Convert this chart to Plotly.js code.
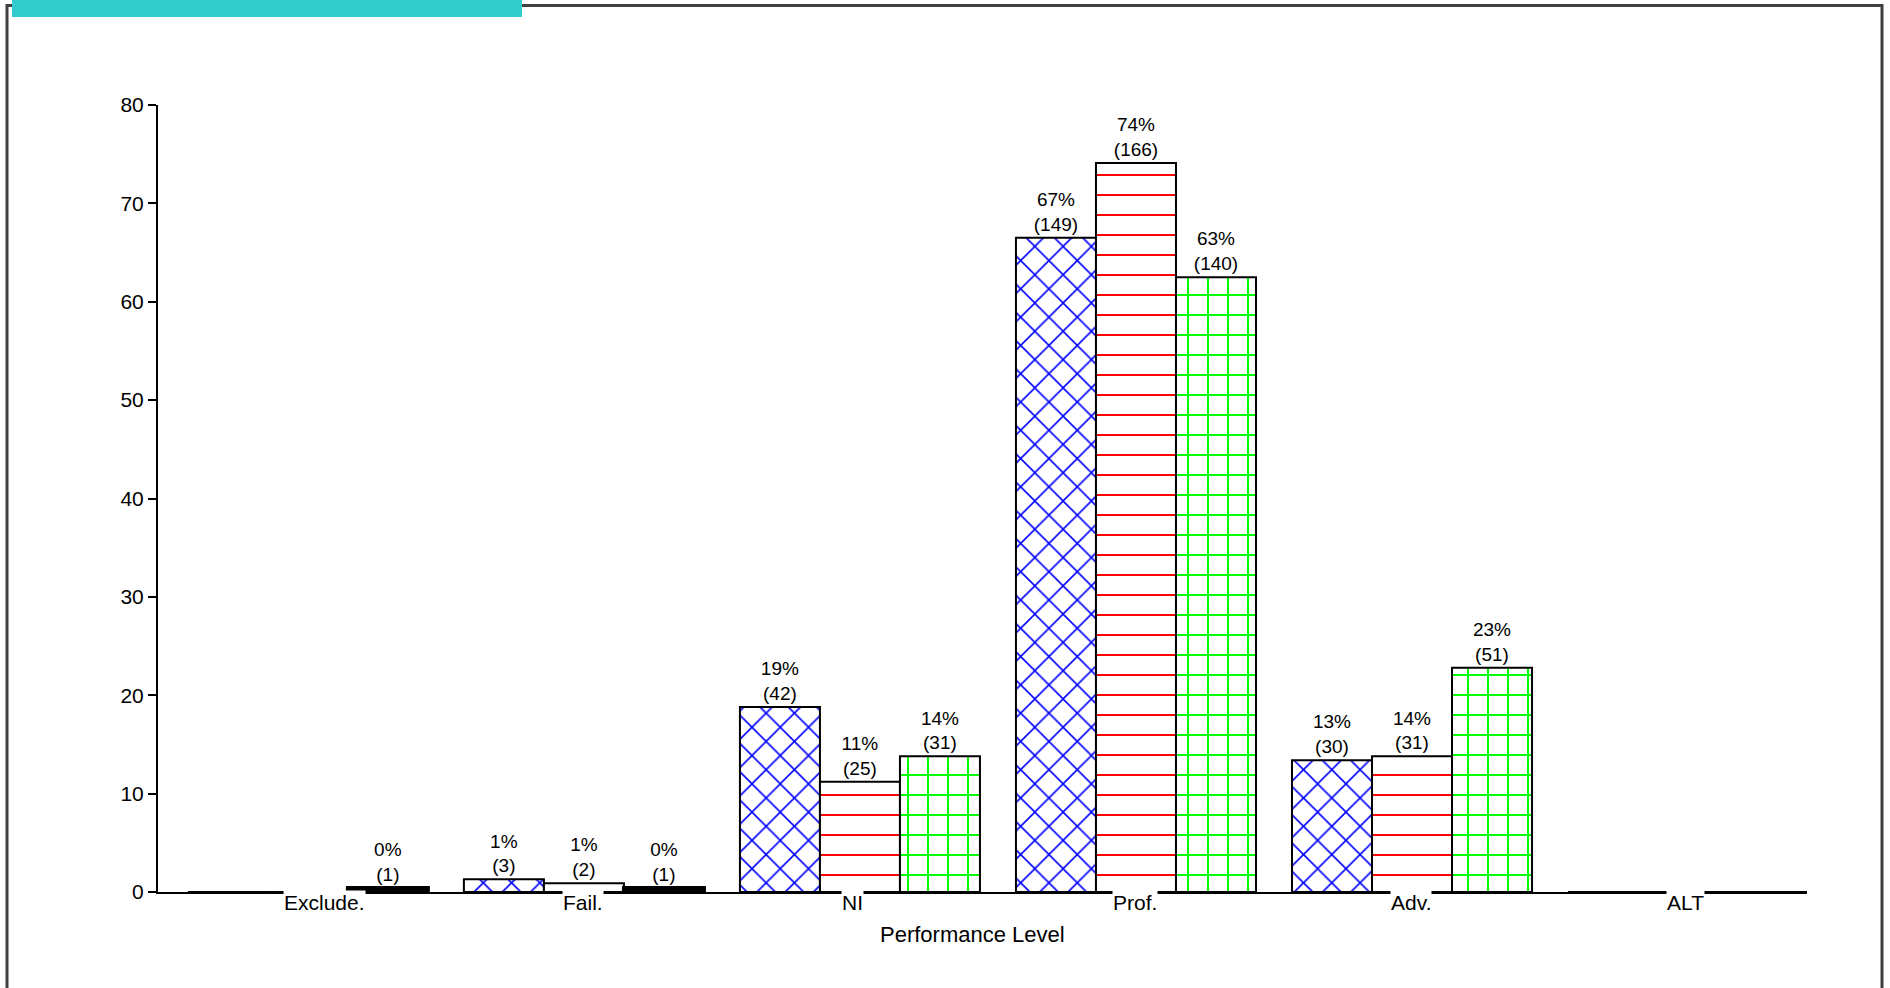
<!DOCTYPE html>
<html>
<head>
<meta charset="utf-8">
<script src="https://cdn.plot.ly/plotly-3.0.1.min.js"></script>
<style>
  html, body { margin: 0; padding: 0; background: #ffffff; }
  #chart { width: 1890px; height: 988px; }
</style>
</head>
<body>
<div id="chart"></div>
<script>
// ---- data ----
const categories = ["Exclude.", "Fail.", "NI", "Prof.", "Adv.", "ALT"];

const series1Values = [0, 1.3, 18.8, 66.5, 13.4, 0];
const series1Pct    = ["", "1%", "19%", "67%", "13%", ""];
const series1Count  = ["", "(3)", "(42)", "(149)", "(30)", ""];

const series2Values = [0, 0.9, 11.2, 74.1, 13.8, 0];
const series2Pct    = ["", "1%", "11%", "74%", "14%", ""];
const series2Count  = ["", "(2)", "(25)", "(166)", "(31)", ""];

const series3Values = [0.4, 0.4, 13.8, 62.5, 22.8, 0];
const series3Pct    = ["0%", "0%", "14%", "63%", "23%", ""];
const series3Count  = ["(1)", "(1)", "(31)", "(140)", "(51)", ""];

const yTicks = [0, 10, 20, 30, 40, 50, 60, 70, 80];
const xAxisTitle = "Performance Level";

// ---- styling ----
const FONT = "Liberation Sans, Arial, sans-serif";

function labels(pct, cnt) {
  return pct.map((p, i) => p === "" ? "" : p + "<br>" + cnt[i]);
}

function barTrace(vals, pct, cnt, shape, color, solidity) {
  return {
    type: "bar",
    x: categories,
    y: vals,
    text: labels(pct, cnt),
    textposition: "outside",
    constraintext: "none",
    cliponaxis: false,
    textfont: { family: FONT, size: 19, color: "#000000" },
    marker: {
      color: "#ffffff",
      // very thin bars are drawn as solid black slabs in the reference
      line: { color: "#000000", width: vals.map(v => (v > 0 && v < 0.6) ? 4 : 2) },
      pattern: { shape: shape, fgcolor: color, bgcolor: "#ffffff", size: 20, solidity: solidity, fillmode: "replace" }
    },
    hoverinfo: "x+y",
    showlegend: false
  };
}

const traces = [
  barTrace(series1Values, series1Pct, series1Count, "x", "#0000ff", 0.15),
  barTrace(series2Values, series2Pct, series2Count, "-", "#ff0000", 0.1),
  barTrace(series3Values, series3Pct, series3Count, "+", "#00ff00", 0.19)
];

// small horizontal nudges of category labels as placed in the reference
const labelNudge = [17, -1, -7, -1, -1, -3];

const annotations = categories.map((c, i) => ({
  xref: "x", yref: "paper",
  x: c, y: 0,
  xanchor: "center", yanchor: "top",
  xshift: labelNudge[i], yshift: 2,
  text: c,
  showarrow: false,
  bgcolor: "#ffffff",
  borderpad: 0,
  font: { family: FONT, size: 21, color: "#000000" }
}));

annotations.push({
  xref: "paper", yref: "paper",
  x: 0.4942, y: -0.0546,
  xanchor: "center", yanchor: "middle",
  text: xAxisTitle,
  showarrow: false,
  font: { family: FONT, size: 22, color: "#000000" }
});

const layout = {
  width: 1890,
  height: 988,
  margin: { l: 158, r: 83, t: 105, b: 96, pad: 0 },
  paper_bgcolor: "#ffffff",
  plot_bgcolor: "#ffffff",
  barmode: "group",
  bargap: 0.1304,
  bargroupgap: 0,
  showlegend: false,
  font: { family: FONT, size: 21, color: "#000000" },
  xaxis: {
    type: "category",
    range: [-0.543, 5.431],
    showline: true,
    linecolor: "#000000",
    linewidth: 2,
    ticks: "",
    showticklabels: false,
    showgrid: false,
    zeroline: false,
    fixedrange: true
  },
  yaxis: {
    range: [0, 80],
    tickvals: yTicks,
    ticktext: yTicks.map(String),
    ticks: "outside",
    ticklen: 8,
    tickwidth: 2,
    tickcolor: "#000000",
    showline: true,
    linecolor: "#000000",
    linewidth: 2,
    showgrid: false,
    zeroline: false,
    tickfont: { family: FONT, size: 21, color: "#000000" },
    fixedrange: true
  },
  annotations: annotations,
  shapes: [
    {
      type: "rect", xref: "paper", yref: "paper",
      x0: -0.09157, x1: 1.04548, y0: -0.2, y1: 1.1264,
      line: { color: "#404040", width: 3 },
      fillcolor: "rgba(0,0,0,0)",
      layer: "below"
    },
    {
      type: "rect", xref: "paper", yref: "paper",
      x0: -0.08854, x1: 0.22074, y0: 1.11182, y1: 1.1398,
      line: { width: 0 },
      fillcolor: "#33cccc",
      layer: "above"
    }
  ]
};

Plotly.newPlot("chart", traces, layout, { displayModeBar: false, staticPlot: true });
</script>
</body>
</html>
